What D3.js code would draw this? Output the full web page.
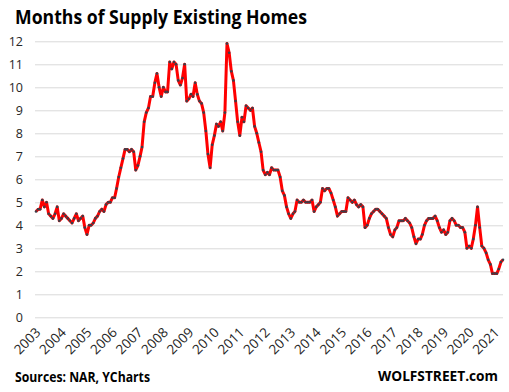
<!DOCTYPE html>
<html>
<head>
<meta charset="utf-8">
<script src="https://cdn.jsdelivr.net/npm/d3@7"></script>
<style>
  body { margin: 0; background: #fff; }
  svg { display: block; font-family: 'Open Sans', sans-serif; }
</style>
</head>
<body>
<div id="chart"></div>
<script>
// monthly values, Jan 2003 .. May 2021
const startYear = 2003;
const supply = [
  4.6, 4.7, 4.7, 5.1, 4.8, 5.0, 4.5, 4.4, 4.3, 4.5, 4.8, 4.2,        // 2003
  4.3, 4.5, 4.4, 4.3, 4.2, 4.1, 4.3, 4.5, 4.2, 4.3, 4.4, 3.9,        // 2004
  3.6, 4.0, 4.0, 4.1, 4.3, 4.4, 4.6, 4.7, 4.6, 4.9, 5.0, 5.0,        // 2005
  5.2, 5.2, 5.6, 6.1, 6.5, 6.9, 7.3, 7.3, 7.2, 7.3, 7.2, 6.4,        // 2006
  6.6, 7.0, 7.4, 8.5, 8.9, 9.1, 9.6, 9.6, 10.2, 10.6, 10.0, 9.6,     // 2007
  10.0, 9.8, 9.8, 11.1, 10.8, 11.1, 11.0, 10.3, 10.1, 10.4, 11.0, 9.4, // 2008
  9.5, 9.7, 9.6, 10.2, 9.7, 9.4, 9.3, 8.9, 8.1, 7.1, 6.5, 7.5,       // 2009
  7.9, 8.4, 8.3, 8.5, 8.1, 8.9, 11.9, 11.5, 10.7, 10.3, 9.4, 8.5,    // 2010
  7.9, 8.7, 8.5, 9.2, 9.1, 9.0, 9.1, 8.3, 8.0, 7.6, 7.2, 6.4,        // 2011
  6.2, 6.3, 6.2, 6.5, 6.4, 6.4, 6.4, 6.1, 5.5, 5.3, 4.8, 4.5,        // 2012
  4.3, 4.5, 4.6, 5.1, 5.0, 5.0, 5.1, 5.0, 5.0, 5.0, 5.1, 4.6,        // 2013
  4.8, 4.9, 5.0, 5.6, 5.5, 5.6, 5.6, 5.4, 5.1, 4.8, 4.4, 4.5,        // 2014
  4.6, 4.6, 4.6, 5.2, 5.1, 5.0, 5.1, 4.9, 4.8, 4.9, 4.8, 3.9,        // 2015
  4.0, 4.3, 4.5, 4.6, 4.7, 4.7, 4.6, 4.5, 4.4, 4.3, 3.9, 3.6,        // 2016
  3.5, 3.8, 3.9, 4.2, 4.2, 4.2, 4.3, 4.2, 4.1, 3.9, 3.5, 3.2,        // 2017
  3.4, 3.4, 3.6, 4.0, 4.2, 4.3, 4.3, 4.3, 4.4, 4.2, 3.9, 3.7,        // 2018
  3.8, 3.6, 3.7, 4.2, 4.3, 4.2, 4.0, 4.0, 3.9, 3.9, 3.7, 3.0,        // 2019
  3.1, 3.0, 3.4, 4.0, 4.8, 3.9, 3.1, 3.0, 2.8, 2.5, 2.3, 1.9,        // 2020
  1.9, 1.9, 2.1, 2.4, 2.5                                            // 2021
];
const yTicks = [0, 1, 2, 3, 4, 5, 6, 7, 8, 9, 10, 11, 12];
const years = d3.range(2003, 2022);

const data = supply.map((v, i) => ({ date: new Date(startYear, i, 1), value: v }));

const width = 509;
const height = 392;
const plot = { left: 36, right: 503, top: 41.3, bottom: 317.3 };

const svg = d3.select('#chart')
  .append('svg')
    .attr('width', width)
    .attr('height', height)
    .attr('viewBox', [0, 0, width, height]);

const x = d3.scaleTime()
  .domain([data[0].date, data[data.length - 1].date])
  .range([plot.left, plot.right]);

const y = d3.scaleLinear()
  .domain([0, 12])
  .range([plot.bottom, plot.top]);

// gridlines + y labels
const yAxis = svg.append('g')
  .attr('transform', `translate(${plot.left - 1},0)`)
  .call(d3.axisLeft(y).tickValues(yTicks).tickSize(-(plot.right - plot.left + 1)).tickPadding(12).tickFormat(d3.format('d')));
yAxis.select('.domain').remove();
yAxis.selectAll('line').attr('stroke', '#d9d9d9').attr('stroke-width', 1);
yAxis.selectAll('text')
  .attr('fill', '#262626')
  .style('font-size', '12.5px')
  .style('font-family', "'Open Sans', sans-serif");

// x labels (rotated years)
const xAxis = svg.append('g')
  .attr('transform', `translate(0,${plot.bottom})`)
  .call(d3.axisBottom(x).tickValues(years.map(yr => new Date(yr, 0, 1))).tickSize(0).tickFormat(d3.timeFormat('%Y')));
xAxis.select('.domain').remove();
xAxis.selectAll('text')
  .attr('y', 0)
  .attr('dy', 0)
  .attr('text-anchor', 'end')
  .attr('transform', 'translate(5,16) rotate(-45)')
  .attr('fill', '#262626')
  .style('font-size', '13.5px')
  .style('font-family', "'Open Sans', sans-serif");

// red line
const line = d3.line()
  .x(d => x(d.date))
  .y(d => y(d.value));

svg.append('path')
  .datum(data)
  .attr('fill', 'none')
  .attr('stroke', '#ff0000')
  .attr('stroke-width', 3)
  .attr('stroke-linejoin', 'round')
  .attr('d', line);

// markers
svg.append('g')
  .attr('fill', '#3a3f4a')
  .selectAll('circle')
  .data(data)
  .join('circle')
    .attr('cx', d => x(d.date))
    .attr('cy', d => y(d.value))
    .attr('r', 1.3);

// title
svg.append('text')
  .attr('x', 15)
  .attr('y', 24)
  .attr('textLength', 292)
  .attr('lengthAdjust', 'spacingAndGlyphs')
  .style('font-size', '19px')
  .style('font-weight', 'bold')
  .attr('fill', '#000')
  .text('Months of Supply Existing Homes');

// footer
svg.append('text')
  .attr('x', 15)
  .attr('y', 382)
  .attr('textLength', 135)
  .attr('lengthAdjust', 'spacingAndGlyphs')
  .style('font-size', '13.5px')
  .style('font-weight', 'bold')
  .attr('fill', '#000')
  .text('Sources: NAR, YCharts');

svg.append('text')
  .attr('x', 498)
  .attr('y', 381)
  .attr('text-anchor', 'end')
  .attr('textLength', 120)
  .attr('lengthAdjust', 'spacingAndGlyphs')
  .style('font-size', '15px')
  .style('font-weight', 'bold')
  .attr('fill', '#000')
  .text('WOLFSTREET.com');
</script>
</body>
</html>
